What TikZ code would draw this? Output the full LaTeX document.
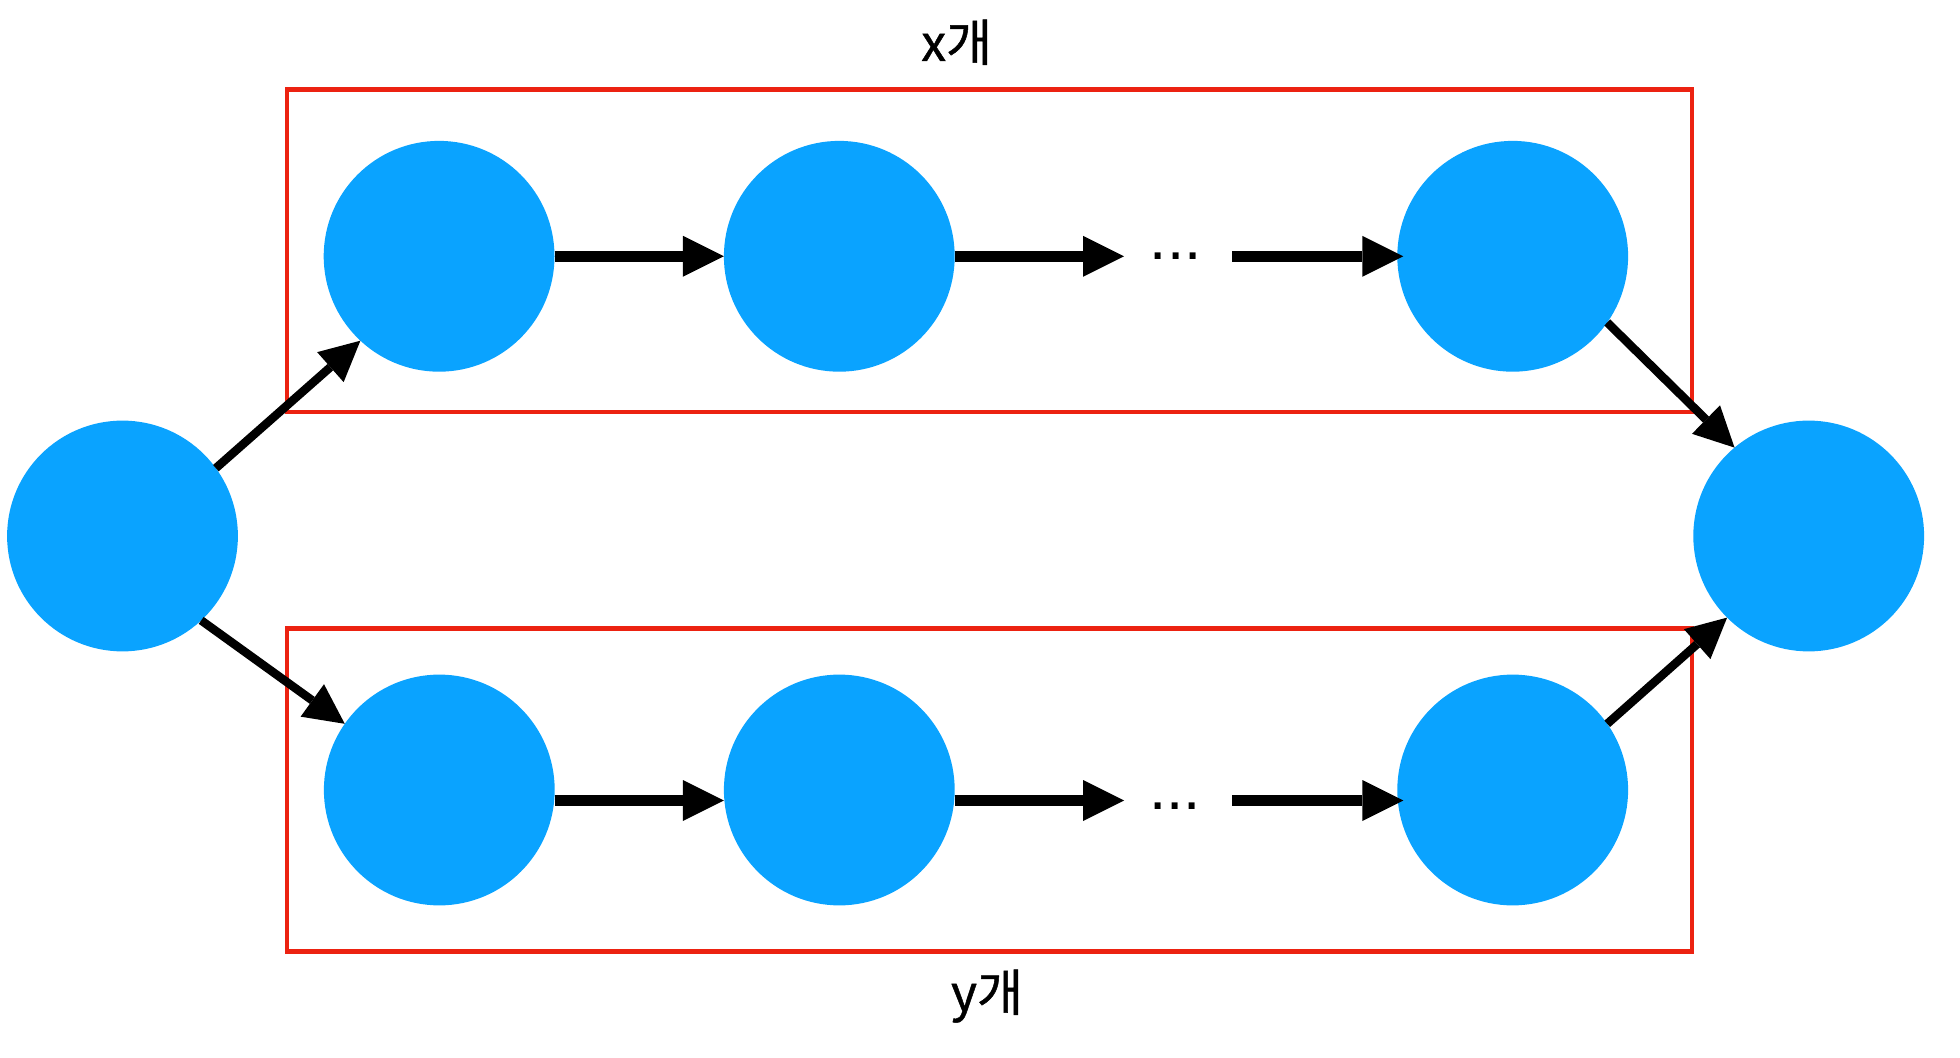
\documentclass[tikz,border=0pt]{standalone}
\usepackage{fontspec}
\newfontfamily\krfont[FakeBold=1]{Noto Sans CJK KR}
\newfontfamily\dotfont{Liberation Sans}
\usetikzlibrary{arrows.meta}
\definecolor{nodeblue}{RGB}{10,163,255}
\definecolor{boxred}{RGB}{236,34,17}
\begin{document}
\begin{tikzpicture}[x=0.5pt,y=-0.5pt,
  blob/.style={circle,fill=nodeblue,minimum size=115.4pt,inner sep=0pt,outer sep=0pt},
  harrow/.style={line width=5.25pt,-{Triangle[length=20.5pt,width=20.5pt,line width=0pt]}},
  darrow/.style={line width=4.25pt,-{Triangle[length=20pt,width=20pt,line width=0pt]}},
  groupframe/.style={draw=boxred,line width=2.3pt},
  dotsnode/.style={anchor=base west,inner sep=0pt,font=\dotfont\fontsize{31pt}{36pt}\selectfont},
  countlabel/.style={anchor=base,inner sep=0pt,font=\krfont\fontsize{25pt}{30pt}\selectfont}]
\useasboundingbox (0,0) rectangle (1960,1058);
% frames
\draw[groupframe] (287,89.5) rectangle (1692,412);
\draw[groupframe] (287,628.5) rectangle (1692,951.6);
% nodes
\node[blob] (L) at (122.5,536) {};
\node[blob] (T1) at (439.1,256.3) {};
\node[blob] (T2) at (839.3,256.3) {};
\node[blob] (T3) at (1512.7,256.3) {};
\node[blob] (B1) at (439.3,790) {};
\node[blob] (B2) at (839.3,790) {};
\node[blob] (B3) at (1512.7,790) {};
\node[blob] (R) at (1808.7,536) {};
% labels
\node[countlabel] (xlab) at (956.7,61) {x개};
\node[countlabel] (ylab) at (987,1011) {y개};
% top row
\coordinate (ta) at (1124,256.3);
\coordinate (tb) at (1232.3,256.3);
\draw[harrow] (T1.east) -- (T2.west);
\draw[harrow] (T2.east) -- (ta);
\node[dotsnode] (tdots) at (1149.5,260) {...};
\draw[harrow,shorten >=-3pt] (tb) -- (T3.west);
% bottom row
\coordinate (ba) at (1124.1,800.5);
\coordinate (bb) at (1232.1,800.5);
\draw[harrow] ([yshift=-5.25pt]B1.east) -- ([yshift=-5.25pt]B2.west);
\draw[harrow] ([yshift=-5.25pt]B2.east) -- (ba);
\node[dotsnode] (bdots) at (1149,809) {...};
\draw[harrow,shorten >=-3pt] (bb) -- ([yshift=-5.25pt]B3.west);
% diagonals
\draw[darrow] (L.36.3) -- (T1.227.5);
\draw[darrow] (L.313.9) -- (B1.145.5);
\draw[darrow] (T3.325) -- (R.130);
\draw[darrow] (B3.35.4) -- (R.225.7);
\end{tikzpicture}
\end{document}
